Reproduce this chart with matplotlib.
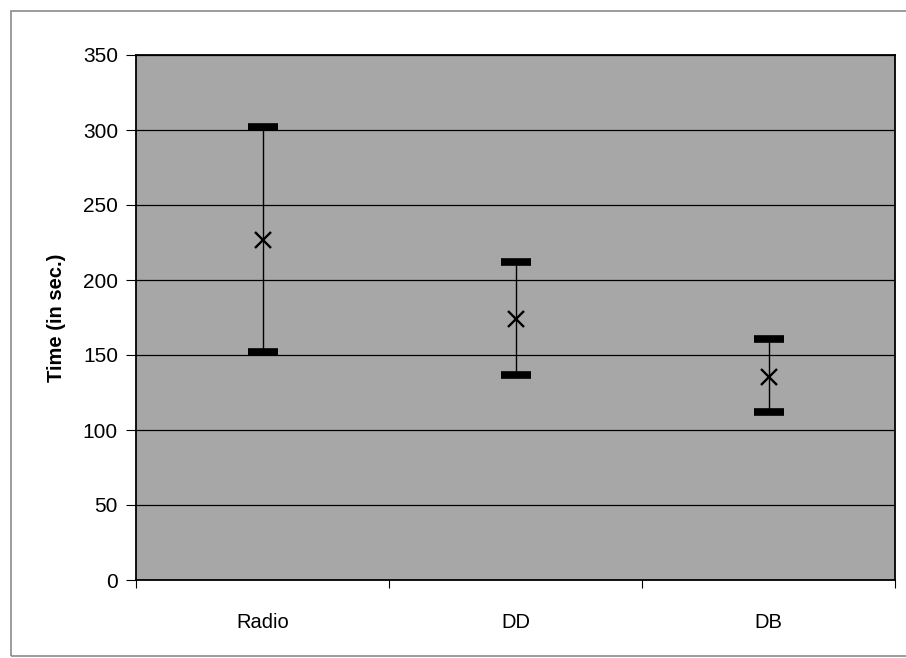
import matplotlib
matplotlib.use("Agg")
import matplotlib.pyplot as plt
from matplotlib.patches import Rectangle

categories = ["Radio", "DD", "DB"]
means = [226.5, 174, 135.5]
highs = [302, 212, 161]
lows = [152, 137, 112]
yticks = [0, 50, 100, 150, 200, 250, 300, 350]

plt.rcParams['font.family'] = ['Liberation Sans', 'DejaVu Sans']

fig = plt.figure(figsize=(9.06, 6.58), dpi=100)
fig.patch.set_facecolor('white')

# outer chart frame
fig.patches.append(Rectangle((11/906, 2/658), 1.2, 645/658, transform=fig.transFigure,
                             fill=False, edgecolor='#8a8a8a', linewidth=1.2, zorder=0))

ax = fig.add_axes([136/906, (658-580)/658, (895-136)/906, (580-55)/658])
ax.set_facecolor('#a7a7a7')

xpos = [i + 0.5 for i in range(len(categories))]
yerr = [[m - l for m, l in zip(means, lows)], [h - m for m, h in zip(means, highs)]]

ax.errorbar(xpos, means, yerr=yerr, fmt='none', ecolor='black', elinewidth=1.0,
            capsize=10.5, capthick=5.5, zorder=3)
ax.plot(xpos, means, linestyle='none', marker='x', markersize=11, markeredgewidth=1.7,
        color='black', zorder=4)

ax.set_xlim(0, 3)
ax.set_ylim(0, 350)
ax.set_yticks(yticks)
ax.set_yticklabels([str(v) for v in yticks], fontsize=15)
ax.yaxis.grid(True, color='black', linewidth=0.9)
ax.set_axisbelow(True)

ax.set_xticks([0, 1, 2, 3])
ax.set_xticklabels([])
ax.set_xticks(xpos, minor=True)
ax.set_xticklabels(categories, minor=True, fontsize=14.5)
ax.tick_params(axis='x', which='minor', length=0, pad=24)
ax.tick_params(axis='x', which='major', direction='out', length=6, width=0.8)
ax.tick_params(axis='y', direction='out', length=7, width=0.8, pad=6)

for side in ['left', 'bottom', 'top', 'right']:
    ax.spines[side].set_color('black')
    ax.spines[side].set_linewidth(1.3)

ax.set_ylabel("Time (in sec.)", fontsize=14.5, fontweight='bold', labelpad=12)

fig.savefig("out.png", dpi=100)
